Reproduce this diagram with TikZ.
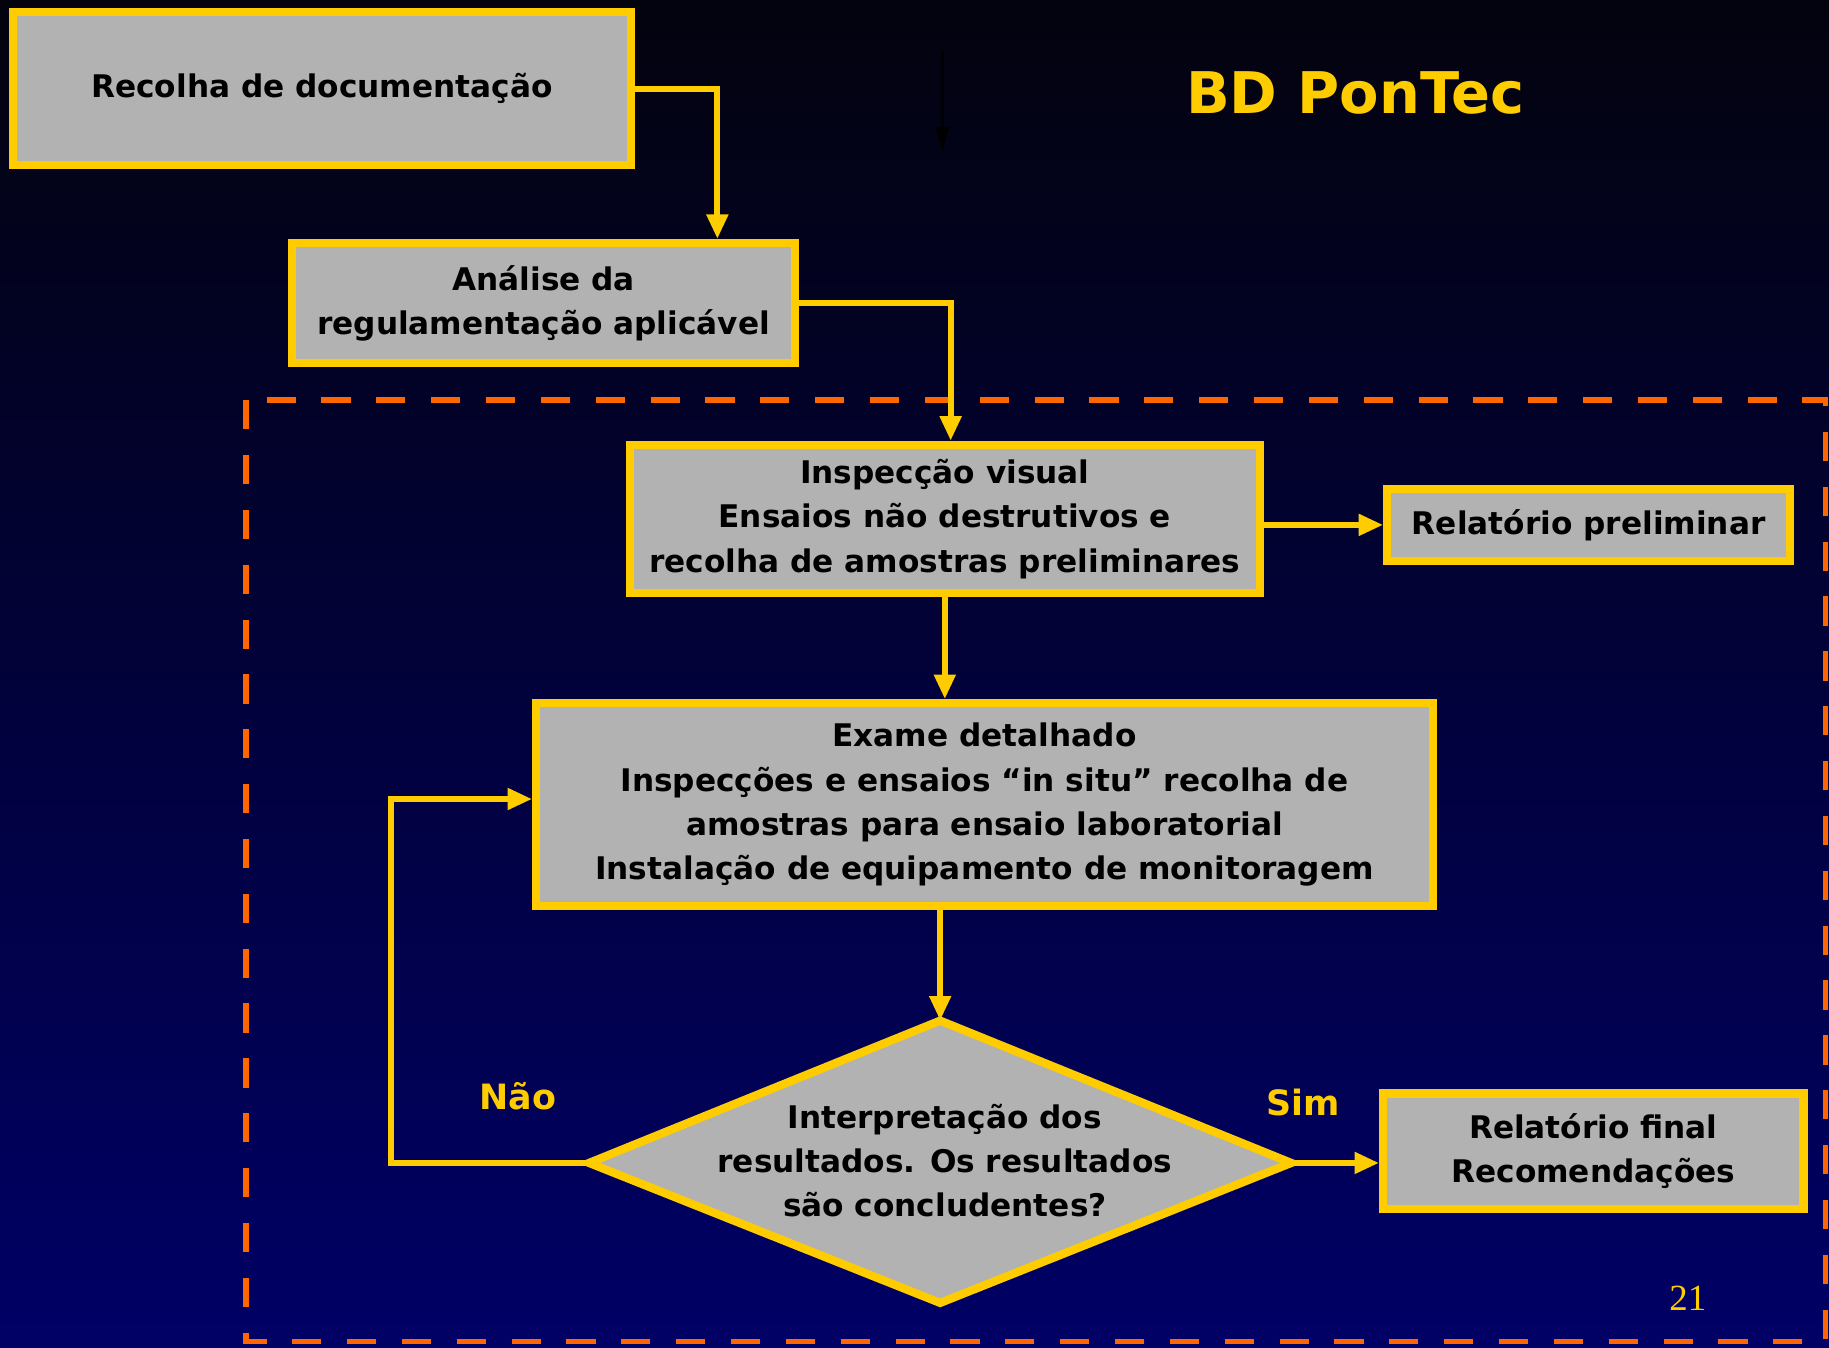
\documentclass[tikz,border=0pt]{standalone}
\usepackage{fontspec}
\setmainfont{DejaVu Sans}
\newfontfamily\numfont{Liberation Serif}
\usetikzlibrary{arrows.meta}
\definecolor{boxgray}{RGB}{178,178,178}
\definecolor{gold}{RGB}{255,204,0}
\definecolor{dashorange}{RGB}{255,102,0}
\definecolor{navy}{RGB}{0,0,102}
\definecolor{midnavy}{RGB}{0,0,70}
\definecolor{nightblack}{RGB}{3,3,14}

\begin{document}
\begin{tikzpicture}[x=0.01cm,y=-0.01cm,
  box/.style={fill=boxgray,draw=gold,line width=2pt,align=center,inner sep=0pt,font=\bfseries\fontsize{7.6}{10.8}\selectfont},
  flow/.style={gold,line width=1.5pt,-{Triangle[length=6pt,width=5pt]}},
  answer/.style={text=gold,font=\bfseries\fontsize{8.5}{10}\selectfont}]
\useasboundingbox (0,0) rectangle (1568,1155);
\shade[top color=nightblack,middle color=midnavy,bottom color=navy] (0,0) rectangle (1568,1155);
\draw[dashorange,line width=1.4pt,dash pattern=on 0.25cm off 0.22cm] (211,343) rectangle (1565,1150);

\node[text=gold,font=\bfseries\fontsize{14}{17}\selectfont] (titulo) at (1162,80) {BD PonTec};
\coordinate (setatopo) at (808,45);
\coordinate (setaponta) at (808,130);
\draw[black,line width=0.8pt,-{Triangle[length=6pt,width=3pt]}] (setatopo) -- (setaponta);

\node[box,minimum width=5.30cm,minimum height=1.31cm] (recolha) at (276,76) {Recolha de documentação};
\node[box,minimum width=4.31cm,minimum height=1.03cm] (analise) at (466,260) {Análise da\\regulamentação aplicável};
\node[box,minimum width=5.40cm,minimum height=1.27cm] (inspeccao) at (810,445) {Inspecção visual\\Ensaios não destrutivos e\\recolha de amostras preliminares};
\node[box,minimum width=3.45cm,minimum height=0.62cm] (relprelim) at (1362,450) {Relatório preliminar};
\node[box,minimum width=7.68cm,minimum height=1.74cm] (exame) at (844,690) {Exame detalhado\\Inspecções e ensaios “in situ” recolha de\\amostras para ensaio laboratorial\\Instalação de equipamento de monitoragem};
\node[box,minimum width=3.60cm,minimum height=0.99cm] (relfinal) at (1366,987) {Relatório final\\Recomendações};

\coordinate (dtop) at (806,875);
\coordinate (dright) at (1107,997);
\coordinate (dbottom) at (806,1117);
\coordinate (dleft) at (505,997);
\filldraw[fill=boxgray,draw=gold,line width=2pt,line join=miter] (dtop) -- (dright) -- (dbottom) -- (dleft) -- cycle;
\node[font=\bfseries\fontsize{7.6}{10.8}\selectfont,align=center] (interp) at (810,995) {Interpretação dos\\resultados. Os resultados\\são concludentes?};

\draw[flow] (recolha.east) -| (615,0 |- analise.north);
\draw[flow] (analise.east) -| (815,0 |- inspeccao.north);
\draw[flow] (inspeccao.east |- relprelim.west) -- (relprelim.west);
\draw[flow] (inspeccao.south) -- (inspeccao.south |- exame.north);
\draw[flow] (exame.south -| dtop) -- (dtop);
\draw[flow] (dright) -- (relfinal.west |- dright);
\draw[flow] (dleft) -- (335,0 |- dleft) |- (exame.west |- 0,685);

\node[answer] (nao) at (444,940) {Não};
\node[answer] (sim) at (1117,945) {Sim};
\node[text=gold,font=\numfont\fontsize{9}{10}\selectfont] (pagina) at (1447,1113) {21};
\end{tikzpicture}
\end{document}
